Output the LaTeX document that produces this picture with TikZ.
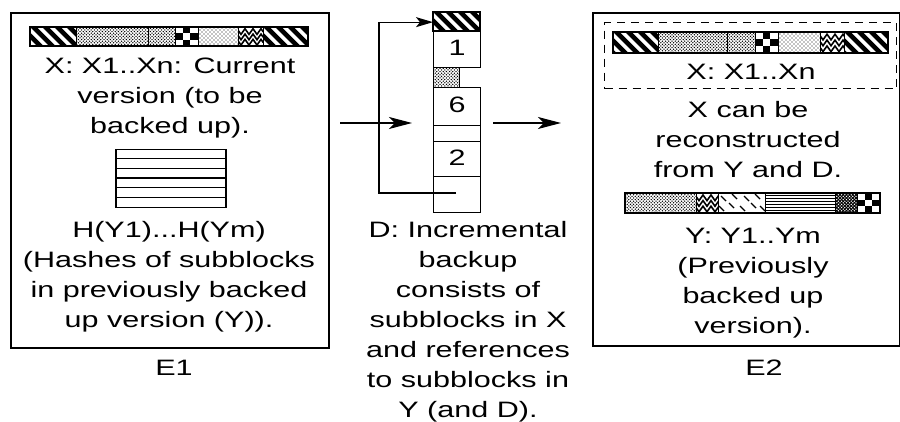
\documentclass[tikz,border=0pt]{standalone}
\usepackage{fontspec}
\setmainfont{Liberation Sans}
\usepackage{graphicx}
\usetikzlibrary{patterns,arrows.meta,decorations.pathmorphing}
\pgfdeclarepatternformonly{mydense}{\pgfqpoint{-1pt}{-1pt}}{\pgfqpoint{4pt}{4pt}}{\pgfqpoint{3.2pt}{3.2pt}}{%
  \pgfpathcircle{\pgfqpoint{0pt}{0pt}}{0.75pt}\pgfpathcircle{\pgfqpoint{1.6pt}{1.6pt}}{0.75pt}\pgfusepath{fill}}
\pgfdeclarepatternformonly{mylight}{\pgfqpoint{-1pt}{-1pt}}{\pgfqpoint{4pt}{4pt}}{\pgfqpoint{4pt}{4pt}}{%
  \pgfpathcircle{\pgfqpoint{0pt}{0pt}}{0.6pt}\pgfpathcircle{\pgfqpoint{2pt}{2pt}}{0.6pt}\pgfusepath{fill}}
\newcommand\W[1]{\scalebox{1.37}[1]{\begin{tabular}{@{}c@{}}#1\end{tabular}}}
% diagonal thick stripes in rectangle x1,y1,x2,y2
\newcommand\diagfill[4]{\begin{scope}\clip (#1,#2) rectangle (#3,#4);
 \foreach \s in {-24,-12,...,60}{\fill ({#1+\s},#2) -- ++(6.5,0) -- ++(22,22) -- ++(-6.5,0) -- cycle;}\end{scope}}
% checker: x,y,w,h
\newcommand\checker[4]{\foreach \i/\j in {1/0,0/1,2/1,1/2}{\fill ({#1+\i*#3/3},{#2+\j*#4/3}) rectangle ++({#3/3},{#4/3});}}
% zigzag lines
\newcommand\zig[4]{\begin{scope}\clip (#1,#2) rectangle (#3,#4);
 \foreach \k in {0.24,0.52,0.8}{\draw[line width=1.6pt,decorate,decoration={zigzag,segment length=8pt,amplitude=2.8pt}] ({#1-3},{#2+\k*(#4-#2)}) -- ({#3+3},{#2+\k*(#4-#2)});}\end{scope}}
\newcommand\dense[4]{\fill[pattern=mydense] (#1,#2) rectangle (#3,#4);}
\newcommand\light[4]{\fill[pattern=mylight] (#1,#2) rectangle (#3,#4);}
\tikzset{
  box/.style={draw,line width=1.8pt},
  strip/.style={draw,line width=1.3pt},
  cell/.style={draw,line width=1.3pt,anchor=north west,inner sep=0pt,minimum width=47pt,font=\fontsize{22.3}{30}\selectfont},
  txt/.style={inner sep=0pt,font=\fontsize{22.3}{30}\selectfont},
  arr/.style={line width=1.2pt,-{Stealth[length=23pt,width=12pt,inset=6pt]}},
  arrs/.style={line width=1.2pt,-{Stealth[length=17pt,width=10pt,inset=4pt]}},
}
\begin{document}
\begin{tikzpicture}[x=1pt,y=-1pt]
\useasboundingbox (0,0) rectangle (900,422);
% ---------- E1 ----------
\node[box,anchor=north west,minimum width=318pt,minimum height=335pt,inner sep=0pt] (E1) at (10,12) {};
% X strip in E1
\diagfill{30}{27}{76}{46}
\dense{76}{27}{148}{46}
\dense{148}{27}{175}{46}
\checker{175}{27}{23}{19}
\light{198}{27}{238}{46}
\zig{238}{27}{263}{46}
\diagfill{263}{27}{308}{46}
\draw[strip] (30,27) rectangle (308,46);
\foreach \x in {76,148,175,198,238,263}{\draw[line width=0.9pt] (\x,27) -- (\x,46);}
\node[txt] (t1) at (170,97.7) {\W{X: X1..Xn: Current\\version (to be\\backed up).}};
% hash box
\node[draw,line width=1.5pt,anchor=north west,minimum width=110pt,minimum height=58pt,inner sep=0pt] (H) at (115,149) {};
\foreach \k in {1,...,5}{\draw[line width=1.4pt] (115,{149+\k*58/6}) -- (225,{149+\k*58/6});}
\node[txt] (t2) at (169,277) {\W{H(Y1)...H(Ym)\\(Hashes of subblocks\\in previously backed\\up version (Y)).}};
\node[txt] (l1) at (174,369) {\W{E1}};
% ---------- D column ----------
\node[cell,minimum height=19pt] (Dtop) at (433,12) {};
\diagfill{433}{12}{480}{31}
\draw[line width=1.3pt] (433,12) rectangle (480,31);
\node[cell,minimum height=36pt] (D1) at (433,31) {\W{1}};
\node[cell,minimum width=26pt,minimum height=20pt,pattern=mydense] (Ddot) at (433,67) {};
\node[cell,minimum height=38pt] (D6) at (433,87) {\W{6}};
\node[cell,minimum height=16pt] (De) at (433,125) {};
\node[cell,minimum height=35pt] (D2) at (433,141) {\W{2}};
\node[cell,minimum height=36pt] (Db) at (433,176) {};
\coordinate (lb) at (456,193);
\draw[arrs] (lb) -- ++(-77,0) |- (Dtop.west);
\coordinate (a1s) at (340,123);
\coordinate (a1e) at (412,123);
\draw[arr] (a1s) -- (a1e);
\coordinate (a2s) at (493,123);
\coordinate (a2e) at (561,123);
\draw[arr] (a2s) -- (a2e);
\node[txt] (t3) at (468,321.5) {\W{D: Incremental\\backup\\consists of\\subblocks in X\\and references\\to subblocks in\\Y (and D).}};
% ---------- E2 ----------
\node[box,anchor=north west,minimum width=307pt,minimum height=333pt,inner sep=0pt] (E2) at (592,12) {};
\node[draw,dash pattern=on 8pt off 6pt,line width=1.4pt,anchor=north west,minimum width=292pt,minimum height=66pt,inner sep=0pt] (XB) at (604,22) {};
\diagfill{613}{32}{658}{53}
\dense{658}{32}{727}{53}
\dense{727}{32}{755}{53}
\checker{755}{32}{23}{21}
\light{778}{32}{820}{53}
\zig{820}{32}{844}{53}
\diagfill{844}{32}{888}{53}
\draw[strip] (613,32) rectangle (888,53);
\foreach \x in {658,727,755,778,820,844}{\draw[line width=0.9pt] (\x,32) -- (\x,53);}
\node[txt] (t4) at (751,74) {\W{X: X1..Xn}};
\node[txt] (t5) at (748,142) {\W{X can be\\reconstructed\\from Y and D.}};
% Y strip
\dense{625}{193}{696}{213}
\zig{696}{193}{718}{213}
\foreach \a/\b in {721/196,732/194,744/196,755/194,719/206,729/203,740/206,751/203,760/206}{\draw[line width=1.4pt] (\a,\b) -- ++(5,5);}
\foreach \k in {1,...,6}{\draw[line width=0.9pt] (765,{193+\k*20/7}) -- (835,{193+\k*20/7});}
\fill (835,193) rectangle (857,213);
\fill[pattern=mydense,pattern color=white] (835,193) rectangle (857,213);
\checker{857}{193}{23}{20}
\draw[strip] (625,193) rectangle (880,213);
\foreach \x in {696,718,765,835,857}{\draw[line width=0.9pt] (\x,193) -- (\x,213);}
\node[txt] (t6) at (753,283) {\W{Y: Y1..Ym\\(Previously\\backed up\\version).}};
\node[txt] (l2) at (764,369) {\W{E2}};
\end{tikzpicture}
\end{document}
